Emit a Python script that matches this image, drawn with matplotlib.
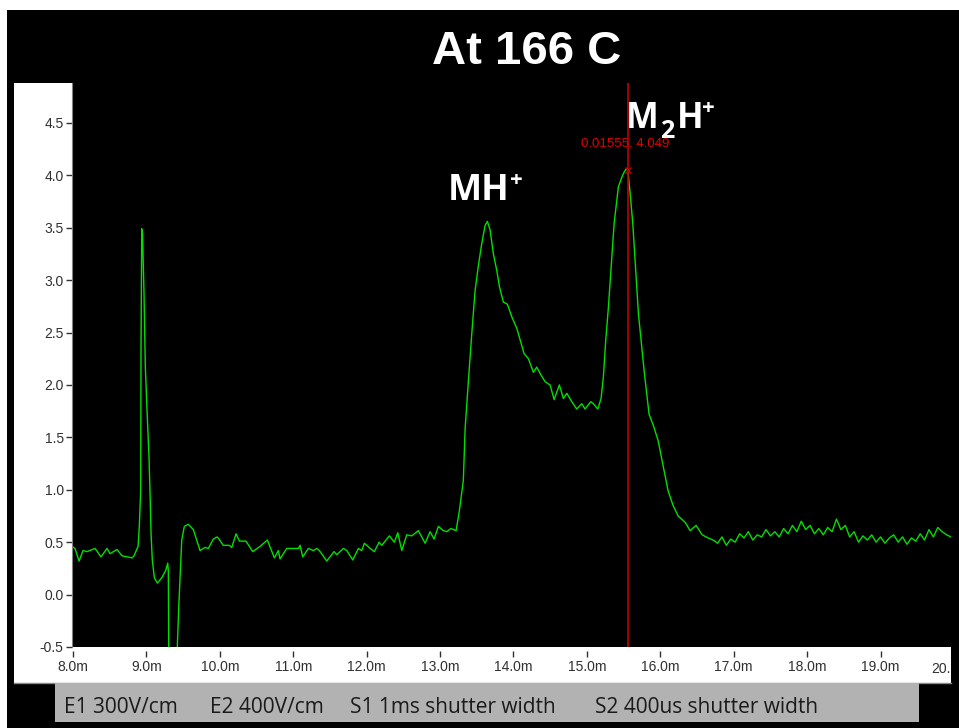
import matplotlib
matplotlib.use('Agg')
import matplotlib.pyplot as plt
from matplotlib.patches import Rectangle
from matplotlib.ticker import FuncFormatter

W, H = 959, 728

# ── trace (time in ms, signal) ────────────────────────────────────────
time_ms = [
    7.986, 8.027, 8.082, 8.136, 8.191, 8.300, 8.381, 8.463, 8.504, 8.599,
    8.668, 8.804, 8.831, 8.886, 8.903, 8.922, 8.926, 8.936, 8.947, 8.967,
    8.985, 9.012, 9.035, 9.049, 9.063, 9.080, 9.108, 9.149, 9.208, 9.263,
    9.290, 9.298, 9.308, 9.349, 9.410, 9.421, 9.440, 9.458, 9.481, 9.516,
    9.571, 9.639, 9.730, 9.798, 9.843, 9.911, 9.966, 10.048, 10.129, 10.162,
    10.221, 10.266, 10.357, 10.448, 10.548, 10.647, 10.743, 10.797, 10.820, 10.911,
    11.070, 11.093, 11.129, 11.206, 11.274, 11.320, 11.356, 11.456, 11.556, 11.593,
    11.683, 11.729, 11.811, 11.887, 11.933, 11.969, 12.046, 12.105, 12.169, 12.206,
    12.309, 12.377, 12.424, 12.478, 12.546, 12.614, 12.704, 12.796, 12.864, 12.918,
    12.977, 13.045, 13.091, 13.146, 13.218, 13.263, 13.317, 13.341, 13.386, 13.432,
    13.477, 13.522, 13.568, 13.613, 13.644, 13.681, 13.726, 13.773, 13.808, 13.862,
    13.917, 13.977, 14.045, 14.090, 14.144, 14.203, 14.271, 14.317, 14.362, 14.431,
    14.499, 14.553, 14.625, 14.680, 14.726, 14.794, 14.862, 14.930, 14.975, 15.053,
    15.089, 15.148, 15.193, 15.225, 15.257, 15.293, 15.339, 15.371, 15.429, 15.475,
    15.507, 15.535, 15.557, 15.589, 15.625, 15.702, 15.779, 15.847, 15.902, 15.970,
    16.038, 16.106, 16.174, 16.243, 16.338, 16.406, 16.488, 16.570, 16.651, 16.72,
    16.78, 16.84, 16.90, 16.96, 17.02, 17.08, 17.14, 17.20, 17.26, 17.32,
    17.38, 17.44, 17.50, 17.56, 17.62, 17.68, 17.74, 17.80, 17.86, 17.92,
    17.98, 18.04, 18.10, 18.16, 18.22, 18.28, 18.34, 18.40, 18.46, 18.52,
    18.58, 18.64, 18.70, 18.76, 18.82, 18.88, 18.94, 19.00, 19.06, 19.12,
    19.18, 19.24, 19.30, 19.36, 19.42, 19.48, 19.54, 19.60, 19.66, 19.72,
    19.78, 19.84, 19.90, 19.96,
]
signal = [
    0.46, 0.44, 0.32, 0.42, 0.41, 0.44, 0.36, 0.44, 0.39, 0.43,
    0.37, 0.35, 0.37, 0.46, 0.65, 1.00, 2.33, 3.49, 3.43, 2.87,
    2.17, 1.69, 1.31, 0.97, 0.58, 0.33, 0.16, 0.11, 0.16, 0.23,
    0.30, 0.23, -1.00, -1.25, -1.00, -0.49, -0.12, 0.17, 0.52, 0.65,
    0.67, 0.62, 0.42, 0.45, 0.44, 0.53, 0.55, 0.47, 0.47, 0.45,
    0.58, 0.51, 0.51, 0.41, 0.46, 0.52, 0.35, 0.42, 0.34, 0.44,
    0.44, 0.47, 0.36, 0.44, 0.42, 0.44, 0.42, 0.32, 0.41, 0.38,
    0.44, 0.42, 0.33, 0.44, 0.42, 0.49, 0.44, 0.41, 0.50, 0.47,
    0.56, 0.50, 0.59, 0.42, 0.57, 0.56, 0.61, 0.49, 0.60, 0.53,
    0.65, 0.61, 0.60, 0.63, 0.61, 0.80, 1.09, 1.58, 2.04, 2.49,
    2.90, 3.14, 3.35, 3.52, 3.56, 3.48, 3.25, 3.09, 2.94, 2.79,
    2.77, 2.65, 2.54, 2.43, 2.30, 2.25, 2.12, 2.17, 2.11, 2.03,
    2.00, 1.86, 2.00, 1.87, 1.92, 1.84, 1.77, 1.82, 1.77, 1.84,
    1.82, 1.77, 1.87, 2.08, 2.43, 2.74, 3.22, 3.54, 3.89, 3.98,
    4.03, 4.06, 4.05, 3.83, 3.54, 2.68, 2.14, 1.72, 1.62, 1.47,
    1.23, 0.99, 0.85, 0.75, 0.69, 0.61, 0.66, 0.57, 0.54, 0.52,
    0.49, 0.55, 0.47, 0.53, 0.50, 0.58, 0.54, 0.60, 0.52, 0.57,
    0.55, 0.62, 0.56, 0.60, 0.55, 0.63, 0.58, 0.66, 0.60, 0.70,
    0.62, 0.66, 0.58, 0.63, 0.57, 0.64, 0.60, 0.72, 0.62, 0.66,
    0.55, 0.60, 0.50, 0.56, 0.52, 0.57, 0.50, 0.55, 0.49, 0.54,
    0.57, 0.50, 0.55, 0.48, 0.54, 0.51, 0.58, 0.52, 0.62, 0.55,
    0.64, 0.60, 0.57, 0.55,
]

x_ticks = [8, 9, 10, 11, 12, 13, 14, 15, 16, 17, 18, 19]
y_ticks = [-0.5, 0.0, 0.5, 1.0, 1.5, 2.0, 2.5, 3.0, 3.5, 4.0, 4.5]
cursor_t, cursor_v = 15.555, 4.049

GREEN = '#00e000'
RED = '#c00000'
TICK_CLR = '#303030'


def fx(px):
    return px / W


def fy(py):
    return 1 - py / H


fig = plt.figure(figsize=(W / 100, H / 100), dpi=100)
fig.patch.set_facecolor('white')

# slide background and the white screenshot panel
fig.patches.append(Rectangle((fx(7), 0), 1 - fx(7), fy(10), transform=fig.transFigure,
                             facecolor='black', edgecolor='none', zorder=0))
fig.patches.append(Rectangle((fx(14), fy(683)), fx(951) - fx(14), fy(83) - fy(683),
                             transform=fig.transFigure, facecolor='white',
                             edgecolor='none', zorder=0.5))
fig.lines.append(plt.Line2D([fx(14), fx(951)], [fy(683), fy(683)],
                            transform=fig.transFigure, color='#888888', lw=1, zorder=0.6))

ax = fig.add_axes([fx(72), fy(647), fx(951) - fx(72), fy(83) - fy(647)])
ax.set_zorder(1.5)
ax.set_facecolor('black')
ax.plot(time_ms, signal, color=GREEN, lw=1.0)
ax.axvline(cursor_t, color=RED, lw=1.2)
ax.plot([cursor_t], [cursor_v], marker='x', color=RED, ms=5, mew=1.0)
ax.annotate('0.01555, 4.049', xy=(cursor_t, cursor_v), xytext=(-2, 19),
            textcoords='offset points', ha='center', va='center',
            color='#e00000', fontsize=9.5, family='Liberation Sans')

ax.set_xlim(7.986, 19.96)
ax.set_ylim(-0.5, 4.88)
ax.set_xticks(x_ticks)
ax.set_yticks(y_ticks)
ax.xaxis.set_major_formatter(FuncFormatter(lambda v, p: f'{v:.1f}m'))
ax.yaxis.set_major_formatter(FuncFormatter(lambda v, p: f'{v:.1f}'))
for s in ['top', 'right']:
    ax.spines[s].set_visible(False)
ax.spines['left'].set_color('#808080')
ax.spines['bottom'].set_color('none')
ax.spines['bottom'].set_position(('outward', 3))
ax.tick_params(axis='x', direction='out', length=4.5, width=1, color=TICK_CLR,
               labelcolor=TICK_CLR, labelsize=10, pad=2)
ax.tick_params(axis='y', direction='out', length=4, width=1, color=TICK_CLR,
               labelcolor=TICK_CLR, labelsize=10, pad=2)
for lab in ax.get_xticklabels() + ax.get_yticklabels():
    lab.set_family('Liberation Sans')
# last tick label is cut off by the panel edge
fig.text(fx(951), fy(673), '20.', ha='right', va='baseline', fontsize=10,
         color=TICK_CLR, family='Liberation Sans')

# title and peak labels
fig.text(fx(527), fy(64), 'At 166 C', ha='center', va='baseline', color='white',
         fontsize=34, fontweight='bold', family='Liberation Sans')
fig.text(fx(448), fy(200), 'MH', ha='left', va='baseline', color='white',
         fontsize=26, fontweight='bold', family='Open Sans', zorder=3)
fig.text(fx(510), fy(186), '+', ha='left', va='baseline', color='white',
         fontsize=16, fontweight='bold', family='Open Sans', zorder=3)
fig.text(fx(626), fy(128), 'M', ha='left', va='baseline', color='white',
         fontsize=25, fontweight='bold', family='Open Sans', zorder=3)
fig.text(fx(660), fy(138), '2', ha='left', va='baseline', color='white',
         fontsize=18, fontweight='bold', family='Open Sans', zorder=3)
fig.text(fx(677), fy(128), 'H', ha='left', va='baseline', color='white',
         fontsize=25, fontweight='bold', family='Open Sans', zorder=3)
fig.text(fx(702), fy(114), '+', ha='left', va='baseline', color='white',
         fontsize=16, fontweight='bold', family='Open Sans', zorder=3)

# parameter strip
fig.patches.append(Rectangle((fx(55), fy(722)), fx(919) - fx(55), fy(683) - fy(722),
                             transform=fig.transFigure, facecolor='#b2b2b2',
                             edgecolor='none', zorder=1))
for px, txt in [(64, 'E1 300V/cm'), (210, 'E2 400V/cm'),
                (350, 'S1 1ms shutter width'), (595, 'S2 400us shutter width')]:
    fig.text(fx(px), fy(713), txt, ha='left', va='baseline', color='#1a1a1a',
             fontsize=15, family='Open Sans', zorder=2)

fig.savefig('out.png', dpi=100, facecolor=fig.get_facecolor())
